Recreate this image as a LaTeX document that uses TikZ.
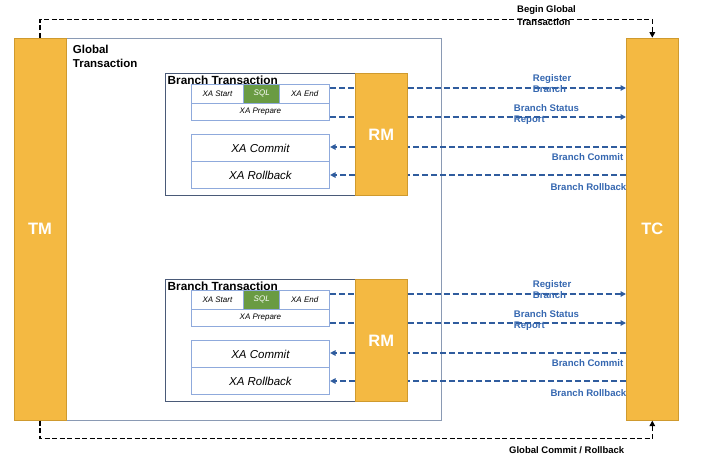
\documentclass[tikz,border=0pt]{standalone}
\usepackage{fontspec}
\setmainfont{Liberation Sans}
\usetikzlibrary{arrows.meta}
\definecolor{orng}{HTML}{F4B942}
\definecolor{orngb}{HTML}{CF9A2E}
\definecolor{gbox}{HTML}{8A9AB4}
\definecolor{brb}{HTML}{4A5A78}
\definecolor{inb}{HTML}{8FAADC}
\definecolor{sqlg}{HTML}{6A9B43}
\definecolor{bline}{HTML}{2F5C9E}
\definecolor{btext}{HTML}{3567B0}
\tikzset{
  orbox/.style={draw=orngb, fill=orng, line width=0.6pt, inner sep=0pt, text=white, font=\bfseries\fontsize{16.5}{16.5}\selectfont, anchor=north west},
  brbox/.style={draw=brb, fill=white, line width=1pt, inner sep=0pt, anchor=north west},
  inbox/.style={draw=inb, fill=white, line width=0.8pt, inner sep=0pt, anchor=north west},
  smalltxt/.style={font=\itshape\fontsize{8}{8}\selectfont},
  bigtxt/.style={font=\itshape\fontsize{11.5}{11.5}\selectfont},
  bdash/.style={draw=bline, line width=2pt, dash pattern=on 6pt off 3pt},
  kdash/.style={draw=black, line width=1.5pt, dash pattern=on 5pt off 2.5pt},
  tip/.style={-{Triangle[length=5.5pt,width=5.5pt]}},
  blab/.style={text=btext, font=\bfseries\fontsize{9.6}{11.8}\selectfont, inner sep=0pt, align=left},
  klab/.style={text=black, font=\bfseries\fontsize{9.5}{12.7}\selectfont, inner sep=0pt, align=left},
}
\begin{document}
\begin{tikzpicture}[x=1pt,y=-1pt]
\useasboundingbox (0,0) rectangle (702,459);
% global transaction box
\node[draw=gbox, line width=1.2pt, inner sep=0pt, minimum width=375pt, minimum height=382.3pt, anchor=north west] (gt) at (66,37.7) {};
\node[anchor=north west, inner sep=0pt, align=left, font=\bfseries\fontsize{11.5}{14}\selectfont] (gtl) at (72.7,44.5) {Global\\Transaction};
% TM and TC
\node[orbox, minimum width=52.5pt, minimum height=382.3pt] (tm) at (13.5,37.7) {TM};
\node[orbox, minimum width=52pt, minimum height=382.3pt] (tc) at (626,37.7) {TC};
% global dashed lines
\coordinate (ktop) at (0,19.5);
\coordinate (kbot) at (0,438.5);
\draw[kdash] (tm.north) -- (tm.north |- ktop) -| (tc.north |- 0,30);
\draw[kdash,tip] (tc.north |- 0,29) -- (tc.north);
\draw[kdash] (tm.south) -- (tm.south |- kbot) -| (tc.south |- 0,428);
\draw[kdash,tip] (tc.south |- 0,429) -- (tc.south);
\node[klab, anchor=north west] (bgl) at (517,5.6) {Begin Global\\Transaction};
\node[klab, anchor=west] (gcl) at (509,450) {Global Commit / Rollback};
% branches
\foreach \i/\dy in {1/0,2/206} {
  \node[brbox, minimum width=242.3pt, minimum height=121.7pt] (br\i) at (164.7,73.3+\dy) {};
  \node[anchor=west, inner sep=0pt, font=\bfseries\fontsize{11.8}{11.8}\selectfont] (brt\i) at (167.5,80+\dy) {Branch Transaction};
  \node[orbox, minimum width=52pt, minimum height=121.7pt] (rm\i) at (355,73.3+\dy) {RM};
  \node[inbox, smalltxt, minimum width=52.6pt, minimum height=18.7pt] (xas\i) at (190.7,84+\dy) {XA Start};
  \node[inbox, smalltxt, minimum width=50pt, minimum height=18.7pt] (xae\i) at (279.3,84+\dy) {XA End};
  \node[draw=inb, fill=sqlg, line width=0.8pt, inner sep=0pt, anchor=north west, text=white, smalltxt, minimum width=36pt, minimum height=18.7pt] (sql\i) at (243.3,84+\dy) {SQL};
  \node[inbox, smalltxt, minimum width=138.6pt, minimum height=17.3pt] (prep\i) at (190.7,102.7+\dy) {XA Prepare};
  \node[inbox, bigtxt, minimum width=138.6pt, minimum height=27.3pt] (com\i) at (190.7,134+\dy) {XA Commit};
  \node[inbox, bigtxt, minimum width=138.6pt, minimum height=27pt] (rol\i) at (190.7,161.3+\dy) {XA Rollback};
  \coordinate (yr\i) at (0,88+\dy);
  \coordinate (ys\i) at (0,117+\dy);
  \coordinate (yc\i) at (0,147+\dy);
  \coordinate (yb\i) at (0,175+\dy);
  \draw[bdash] (xae\i.east |- yr\i) -- (rm\i.west |- yr\i);
  \draw[bdash,tip] (rm\i.east |- yr\i) -- (tc.west |- yr\i);
  \draw[bdash] (prep\i.east |- ys\i) -- (rm\i.west |- ys\i);
  \draw[bdash,tip] (rm\i.east |- ys\i) -- (tc.west |- ys\i);
  \draw[bdash] (tc.west |- yc\i) -- (rm\i.east |- yc\i);
  \draw[bdash,tip] (rm\i.west |- yc\i) -- (com\i.east |- yc\i);
  \draw[bdash] (tc.west |- yb\i) -- (rm\i.east |- yb\i);
  \draw[bdash,tip] (rm\i.west |- yb\i) -- (rol\i.east |- yb\i);
  \node[blab, anchor=north west] (lr\i) at (532.7,74+\dy) {Register\\Branch};
  \node[blab, anchor=north west] (ls\i) at (513.7,104+\dy) {Branch Status\\Report};
  \node[blab, anchor=east] (lc\i) at (623.5,157+\dy) {Branch Commit};
  \node[blab, anchor=east] (lb\i) at (626.5,187+\dy) {Branch Rollback};
}
\end{tikzpicture}
\end{document}
